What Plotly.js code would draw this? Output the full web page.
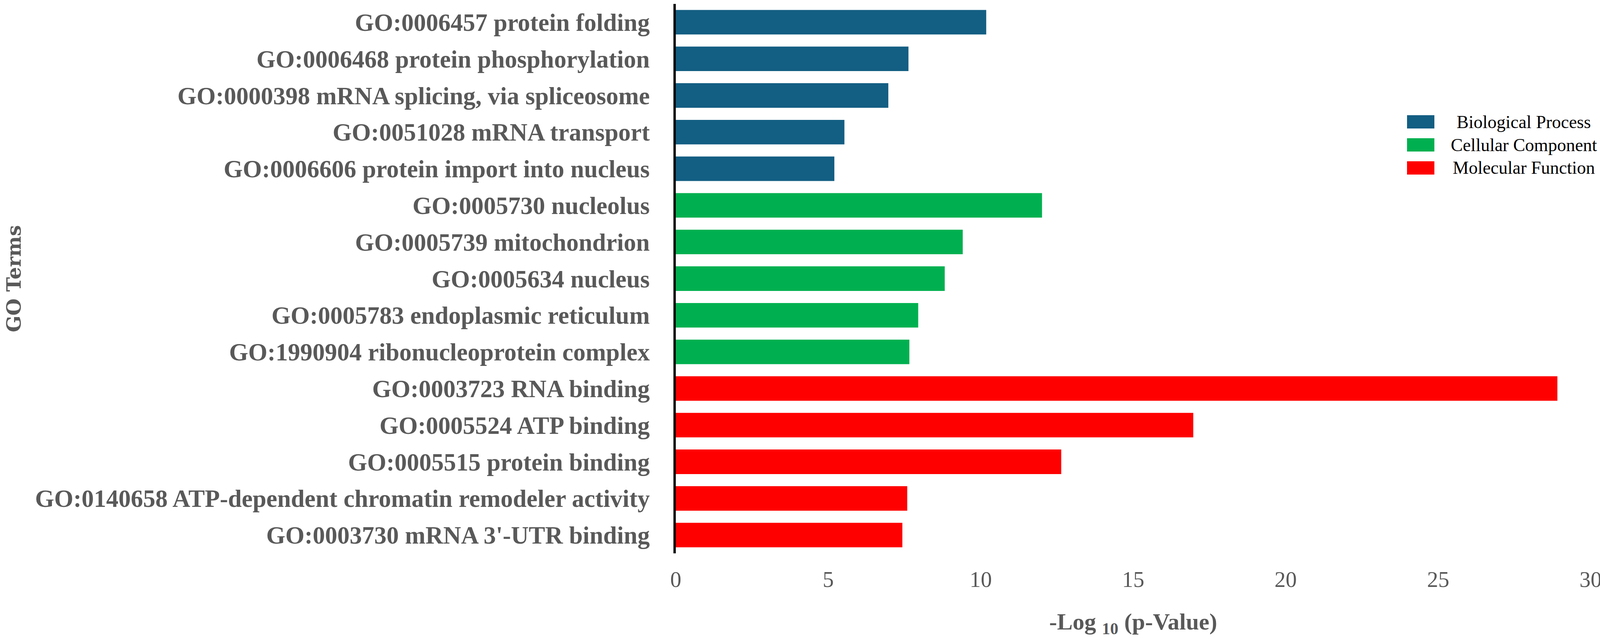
<!DOCTYPE html>
<html>
<head>
<meta charset="utf-8">
<script src="https://cdn.plot.ly/plotly-3.0.1.min.js"></script>
<style>
  body { margin: 0; background: #ffffff; }
  #go-plot { width: 4134px; height: 1644px; }
</style>
</head>
<body>
<div id="go-plot"></div>
<script>
// GO terms, top to bottom, with the -log10(p)
var bp_terms = [
    "GO:0006457 protein folding",
    "GO:0006468 protein phosphorylation",
    "GO:0000398 mRNA splicing, via spliceosome",
    "GO:0051028 mRNA transport",
    "GO:0006606 protein import into nucleus"
];
var bp_values = [10.18, 7.63, 6.97, 5.53, 5.20];

var cc_terms = [
    "GO:0005730 nucleolus",
    "GO:0005739 mitochondrion",
    "GO:0005634 nucleus",
    "GO:0005783 endoplasmic reticulum",
    "GO:1990904 ribonucleoprotein complex"
];
var cc_values = [12.01, 9.41, 8.82, 7.95, 7.66];

var mf_terms = [
    "GO:0003723 RNA binding",
    "GO:0005524 ATP binding",
    "GO:0005515 protein binding",
    "GO:0140658 ATP-dependent chromatin remodeler activity",
    "GO:0003730 mRNA 3'-UTR binding"
];
var mf_values = [28.91, 16.97, 12.64, 7.59, 7.43];

var group_names = ["Biological Process", "Cellular Component", "Molecular Function"];
var group_colors = ["#135E83", "#00B050", "#FF0000"];
var x_ticks = [0, 5, 10, 15, 20, 25, 30];

var all_terms = bp_terms.concat(cc_terms, mf_terms);

var W = 4134, H = 1644;
var margin = {l: 1730, r: 62, t: 10, b: 227};
var serif = "Liberation Serif, Times New Roman, serif";
var grey = "#595959";

function barTrace(terms, values, i) {
    return {
        type: 'bar',
        orientation: 'h',
        x: values,
        y: terms,
        name: group_names[i],
        marker: {color: group_colors[i], line: {width: 0}},
        showlegend: false,
        hoverinfo: 'x+y'
    };
}

var data = [
    barTrace(bp_terms, bp_values, 0),
    barTrace(cc_terms, cc_values, 1),
    barTrace(mf_terms, mf_values, 2)
];

// legend drawn by hand so the swatches can be as large as in the figure
function px2paperX(px) { return (px - margin.l) / (W - margin.l - margin.r); }
function px2paperY(py) { return 1 - (py - margin.t) / (H - margin.t - margin.b); }

var shapes = [];
var annotations = [];
for (var i = 0; i < group_names.length; i++) {
    var cy = 312 + i * 59;
    shapes.push({
        type: 'rect', xref: 'paper', yref: 'paper',
        x0: px2paperX(3602), x1: px2paperX(3672),
        y0: px2paperY(cy + 17), y1: px2paperY(cy - 17),
        fillcolor: group_colors[i], line: {width: 0}
    });
    annotations.push({
        xref: 'paper', yref: 'paper',
        x: px2paperX(3901), y: px2paperY(cy),
        xanchor: 'center', yanchor: 'middle',
        text: group_names[i], showarrow: false,
        font: {family: serif, size: 46, color: '#000000'}
    });
}

var layout = {
    width: W,
    height: H,
    margin: margin,
    barmode: 'overlay',
    bargap: 0.33,
    plot_bgcolor: '#ffffff',
    paper_bgcolor: '#ffffff',
    showlegend: false,
    xaxis: {
        range: [0, 30],
        tickvals: x_ticks,
        ticktext: x_ticks.map(String),
        showgrid: false,
        zeroline: false,
        showline: false,
        ticks: '',
        ticklabelstandoff: 28,
        tickfont: {family: serif, size: 57, color: grey},
        title: {
            text: "-Log <sub>10</sub> (p-Value)",
            standoff: 55,
            font: {family: serif, size: 60, color: grey, weight: 'bold'}
        }
    },
    yaxis: {
        type: 'category',
        categoryorder: 'array',
        categoryarray: all_terms,
        autorange: 'reversed',
        showgrid: false,
        zeroline: false,
        showline: true,
        linecolor: '#000000',
        linewidth: 6,
        ticks: '',
        ticklabelstandoff: 48,
        tickfont: {family: serif, size: 63, color: grey, weight: 'bold'},
        title: {
            text: "GO Terms",
            standoff: 22,
            font: {family: "DejaVu Serif, serif", size: 50, color: grey, weight: 'bold'}
        }
    },
    shapes: shapes,
    annotations: annotations
};

Plotly.newPlot('go-plot', data, layout, {staticPlot: true});
</script>
</body>
</html>
